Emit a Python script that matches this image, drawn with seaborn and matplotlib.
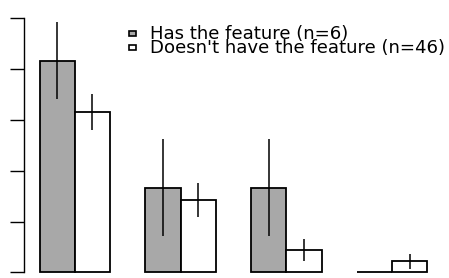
import matplotlib
matplotlib.use("Agg")
import matplotlib.pyplot as plt
from matplotlib.patches import Rectangle
import seaborn as sns
import pandas as pd

categories = ["A", "B", "C", "D"]
groups = ["Has the feature (n=6)", "Doesn't have the feature (n=46)"]
has_values = [0.833, 0.333, 0.333, 0.0]
hasnt_values = [0.630, 0.283, 0.087, 0.043]
has_err = [0.152, 0.192, 0.192, 0.0]
hasnt_err = [0.071, 0.067, 0.043, 0.030]
colors = ["#A8A8A8", "#FFFFFF"]

sns.set_theme(style="white")
plt.rcParams["font.family"] = ["DejaVu Sans"]

df = pd.DataFrame({
    "category": categories * 2,
    "group": [groups[0]] * 4 + [groups[1]] * 4,
    "value": has_values + hasnt_values,
})

W, H, DPI = 449, 278, 100
fig = plt.figure(figsize=(W / DPI, H / DPI), dpi=DPI)
ax = fig.add_axes([0, 0, 1, 1])

sns.barplot(data=df, x="category", y="value", hue="group", hue_order=groups,
            order=categories, palette=colors, width=0.667, errorbar=None,
            edgecolor="black", linewidth=1.3, legend=False, ax=ax)

errs = [has_err, hasnt_err]
for cont, err in zip(ax.containers, errs):
    xs = [p.get_x() + p.get_width() / 2 for p in cont]
    ys = [p.get_height() for p in cont]
    ax.errorbar(xs, ys, yerr=err, fmt="none", ecolor="black", elinewidth=1.1,
                capsize=0)

ax.set_xlim(-0.707, 3.537)
ax.set_ylim(-0.0224, 1.072)
ax.set_xlabel("")
ax.set_ylabel("")
ax.set_xticks([])
ax.set_yticks([0, 0.2, 0.4, 0.6, 0.8, 1.0])
ax.set_yticklabels([])
for s in ["top", "right", "bottom"]:
    ax.spines[s].set_visible(False)
ax.spines["left"].set_position(("data", -0.48))
ax.spines["left"].set_bounds(0, 1)
ax.spines["left"].set_color("black")
ax.spines["left"].set_linewidth(1.0)
ax.tick_params(axis="y", direction="out", length=10, width=1.0, color="black",
               left=True)
ax.patch.set_alpha(0)

# legend
def fx(px):
    return px / W

def fy(py):
    return 1 - py / H

fs = 13.05
for lab, col, base, sq_top in zip(groups, colors, [38.7, 53.3], [30.8, 45.0]):
    fig.patches.append(Rectangle((fx(129.3), fy(sq_top + 5.0)), fx(6.2), 5.0 / H,
                                 transform=fig.transFigure, facecolor=col,
                                 edgecolor="black", linewidth=1.2))
    fig.text(fx(150.5), fy(base), lab, fontsize=fs, va="baseline", ha="left",
             color="black")

fig.savefig("out.png", dpi=DPI)
